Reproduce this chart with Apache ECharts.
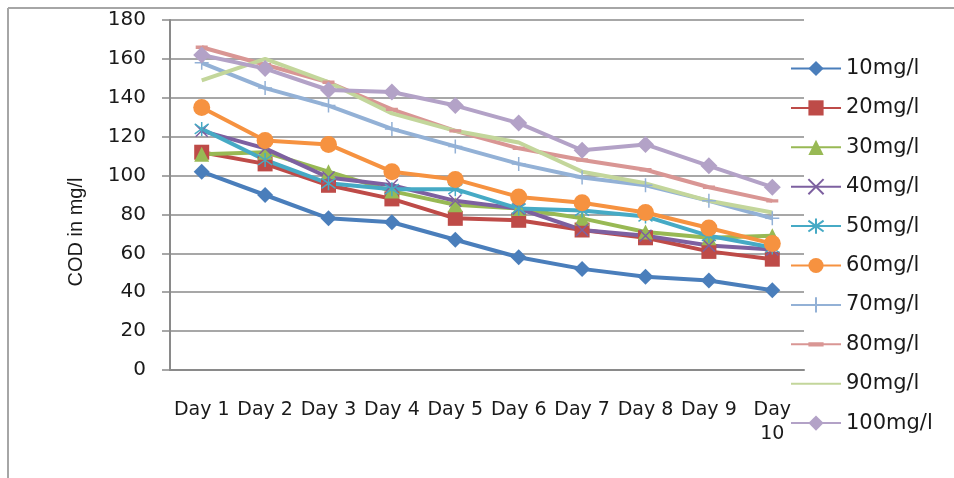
<!DOCTYPE html>
<html>
<head>
<meta charset="utf-8">
<script src="https://cdn.jsdelivr.net/npm/echarts@6/dist/echarts.min.js"></script>
<style>
  html, body { margin: 0; padding: 0; background: #fff; }
  #chart { width: 954px; height: 478px; }
</style>
</head>
<body>
<div id="chart"></div>
<script>
// 数据
var days = ['Day 1', 'Day 2', 'Day 3', 'Day 4', 'Day 5', 'Day 6', 'Day 7', 'Day 8', 'Day 9', 'Day 10'];
var names = ['10mg/l', '20mg/l', '30mg/l', '40mg/l', '50mg/l', '60mg/l', '70mg/l', '80mg/l', '90mg/l', '100mg/l'];
var s10 = [102, 90, 78, 76, 67, 58, 52, 48, 46, 41];
var s20 = [112, 106, 95, 88, 78, 77, 72, 68, 61, 57];
var s30 = [111, 112, 102, 92, 85, 83, 78, 71, 68, 69];
var s40 = [123, 114, 99, 95, 87, 83, 72, 69, 64, 62];
var s50 = [124, 108, 96, 93, 93, 83, 82, 79, 69, 63];
var s60 = [135, 118, 116, 102, 98, 89, 86, 81, 73, 65];
var s70 = [158, 145, 136, 124, 115, 106, 99, 95, 87, 78];
var s80 = [166, 157, 148, 134, 123, 114, 108, 103, 94, 87];
var s90 = [149, 160, 148, 132, 123, 117, 102, 96, 87, 81];
var s100 = [162, 155, 144, 143, 136, 127, 113, 116, 105, 94];

(function () {
  var chart = echarts.init(document.getElementById('chart'));

  var allData = [s10, s20, s30, s40, s50, s60, s70, s80, s90, s100];
  var colors = ['#4A7EBB', '#BE4B48', '#98B954', '#7D60A0', '#46AAC5',
                '#F69240', '#93B1D6', '#D99694', '#C3D69B', '#B3A2C7'];
  // 标记样式
  var marks = [
    { symbol: 'diamond', size: 16 },
    { symbol: 'rect', size: 15 },
    { symbol: 'triangle', size: 15 },
    { symbol: 'path://M0,0L10,10M10,0L0,10', size: 12, stroke: true },
    { symbol: 'path://M0,0L10,10M10,0L0,10M5,-2L5,12', size: 14, stroke: true },
    { symbol: 'circle', size: 17 },
    { symbol: 'path://M5,0L5,10M0,5L10,5', size: 14, stroke: true },
    // 短横线 (上下留空)
    { symbol: 'path://M0,0H0.01V0.01H0Z M0,3.6H10V6.4H0Z M9.99,9.99H10V10H9.99Z', size: 12 },
    { symbol: 'circle', size: 0, hide: true },
    { symbol: 'diamond', size: 17 }
  ];

  var series = names.map(function (n, i) {
    var m = marks[i];
    var itemStyle = { color: m.hide ? 'rgba(0,0,0,0)' : colors[i] };
    if (m.stroke) {
      itemStyle.borderColor = colors[i];
      itemStyle.borderWidth = 1.5;
    }
    return {
      name: n,
      type: 'line',
      data: allData[i],
      symbol: m.symbol,
      symbolSize: m.size,
      showSymbol: !m.hide,
      lineStyle: { width: 4, color: colors[i] },
      itemStyle: itemStyle,
      emphasis: { disabled: true },
      animation: false
    };
  });

  var option = {
    animation: false,
    color: colors,
    grid: { left: 170, right: 150, top: 20, bottom: 108 },
    legend: {
      orient: 'vertical',
      left: 785,
      top: 53,
      padding: 5,
      itemWidth: 50,
      itemHeight: 19,
      itemGap: 18.4,
      textStyle: { fontFamily: 'DejaVu Sans', fontSize: 21, color: '#1a1a1a', lineHeight: 19 },
      data: names
    },
    xAxis: {
      type: 'category',
      data: days,
      boundaryGap: true,
      axisLine: { lineStyle: { color: '#8a8a8a', width: 2 } },
      axisTick: { length: 7, lineStyle: { color: '#8a8a8a', width: 1.5 } },
      axisLabel: {
        margin: 28,
        fontFamily: 'DejaVu Sans',
        fontSize: 19,
        color: '#1a1a1a',
        interval: 0,
        lineHeight: 24,
        formatter: function (v) { return v === 'Day 10' ? 'Day\n10' : v; }
      }
    },
    yAxis: {
      type: 'value',
      min: 0,
      max: 180,
      interval: 20,
      axisLine: { show: true, lineStyle: { color: '#8a8a8a', width: 2 } },
      axisTick: { show: true, length: 8, lineStyle: { color: '#8a8a8a', width: 1.5 } },
      axisLabel: { margin: 24, fontFamily: 'DejaVu Sans', fontSize: 20, color: '#1a1a1a' },
      splitLine: { lineStyle: { color: '#8a8a8a', width: 1.5 } }
    },
    graphic: [
      // 外框
      { type: 'line', shape: { x1: 8, y1: 8, x2: 954, y2: 8 }, style: { stroke: '#a6a6a6', lineWidth: 2 } },
      { type: 'line', shape: { x1: 8, y1: 8, x2: 8, y2: 478 }, style: { stroke: '#a6a6a6', lineWidth: 2 } },
      // Y轴标题
      {
        type: 'text', x: 76, y: 232, rotation: Math.PI / 2,
        style: {
          text: 'COD in mg/l', fontFamily: 'Liberation Sans', fontSize: 20,
          fill: '#1a1a1a', align: 'center', verticalAlign: 'middle'
        }
      }
    ],
    series: series
  };

  chart.setOption(option);
})();
</script>
</body>
</html>
